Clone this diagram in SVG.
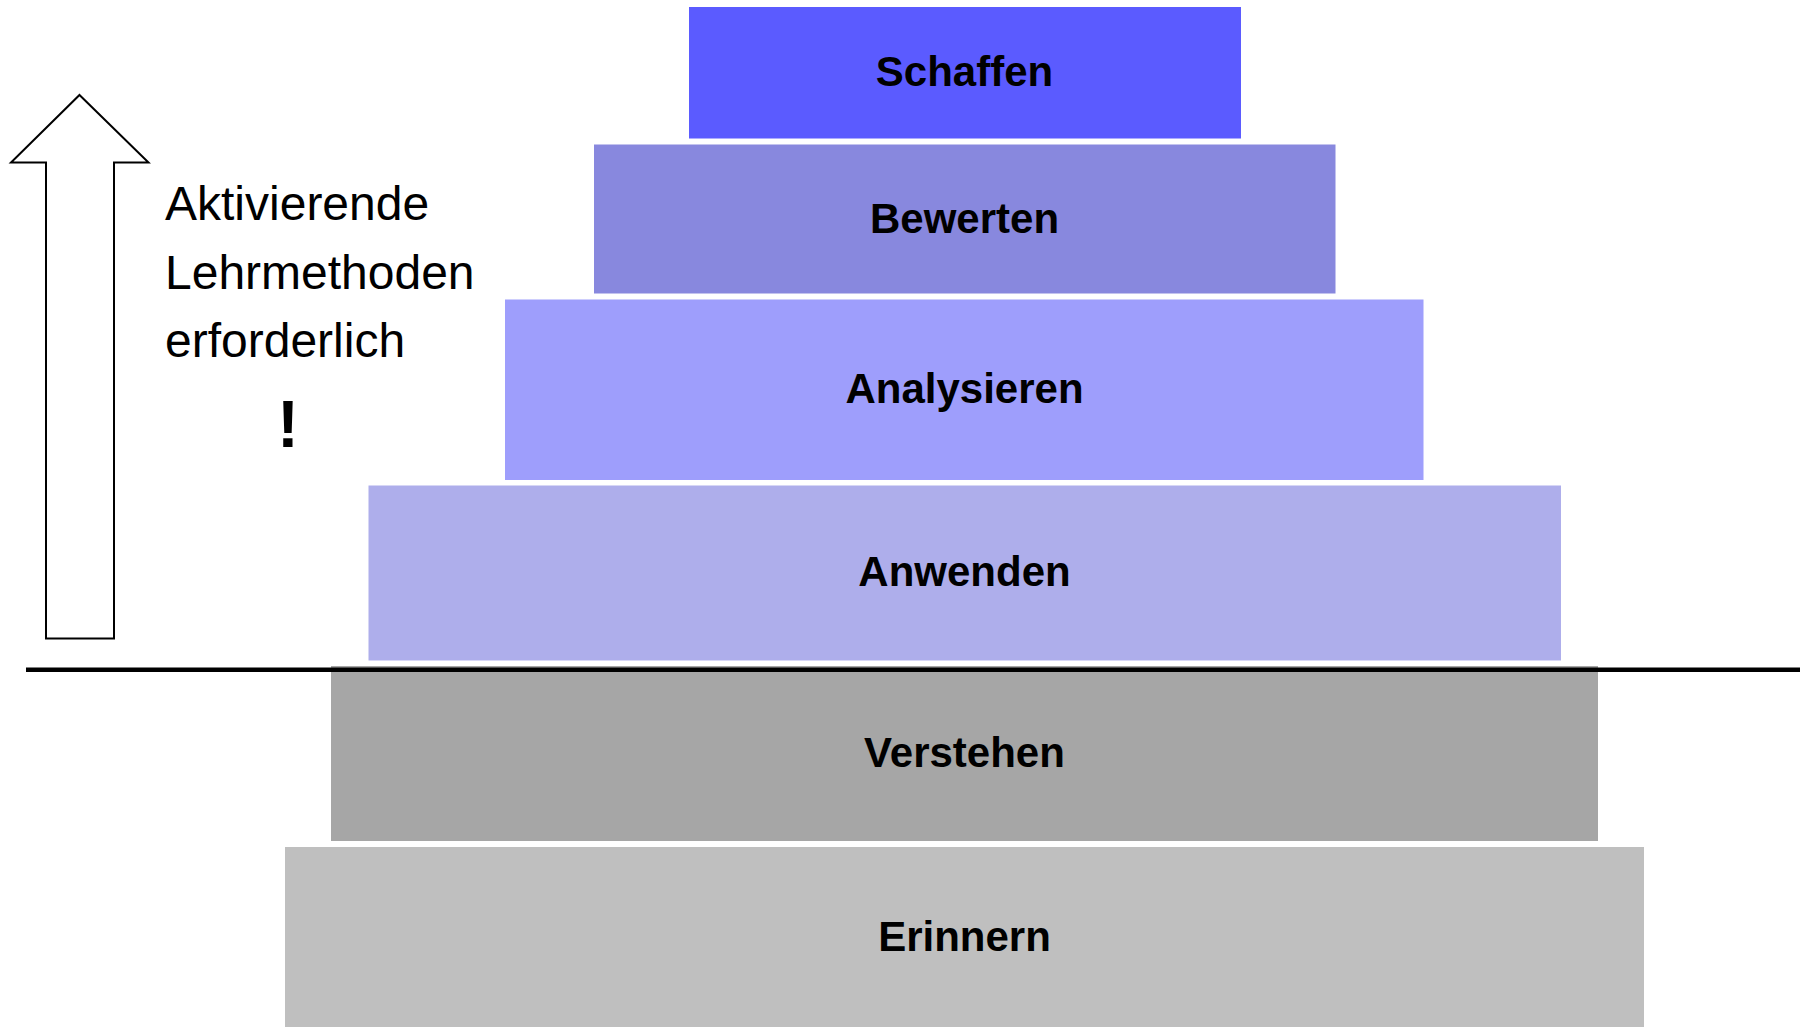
<svg xmlns="http://www.w3.org/2000/svg" width="1800" height="1027" viewBox="0 0 1800 1027">
<style>
.lbl{font-family:"Liberation Sans",Arial,sans-serif;font-weight:bold;font-size:42px;fill:#000;text-anchor:middle}
.side{font-family:"Liberation Sans",Arial,sans-serif;font-size:48px;fill:#000}
</style>
<rect width="1800" height="1027" fill="#fff"/>
<g id="erinnern"><rect x="285" y="847" width="1359" height="180" fill="#BFBFBF"/><text class="lbl" x="964.5" y="951">Erinnern</text></g>
<g id="verstehen"><rect x="331" y="666" width="1267" height="175" fill="#A6A6A6"/><text class="lbl" x="964.5" y="767">Verstehen</text></g>
<g id="anwenden"><rect x="368.5" y="485.5" width="1192.5" height="175" fill="#AEAEEB"/><text class="lbl" x="964.5" y="586">Anwenden</text></g>
<g id="analysieren"><rect x="505" y="299.5" width="918.5" height="180.5" fill="#9E9EFC"/><text class="lbl" x="964.5" y="403">Analysieren</text></g>
<g id="bewerten"><rect x="594" y="144.5" width="741.5" height="149" fill="#8888DE"/><text class="lbl" x="964.5" y="233">Bewerten</text></g>
<g id="schaffen"><rect x="689" y="7" width="552" height="131.5" fill="#5B5BFF"/><text class="lbl" x="964.5" y="86">Schaffen</text></g>
<g id="connectors">
<line x1="26" y1="669.8" x2="1800" y2="669.8" stroke="#000" stroke-width="4.5"/>
<polygon points="79.5,95 148.5,162.5 114,162.5 114,638.5 46,638.5 46,162.5 11,162.5" fill="#fff" stroke="#000" stroke-width="2"/>
</g>
<g id="side-text">
<text class="side" x="165" y="220">Aktivierende</text>
<text class="side" x="165" y="289">Lehrmethoden</text>
<text class="side" x="165" y="357">erforderlich</text>
<text x="288" y="447" font-family="Liberation Sans,Arial,sans-serif" font-weight="bold" font-size="66" text-anchor="middle">!</text>
</g>
</svg>
